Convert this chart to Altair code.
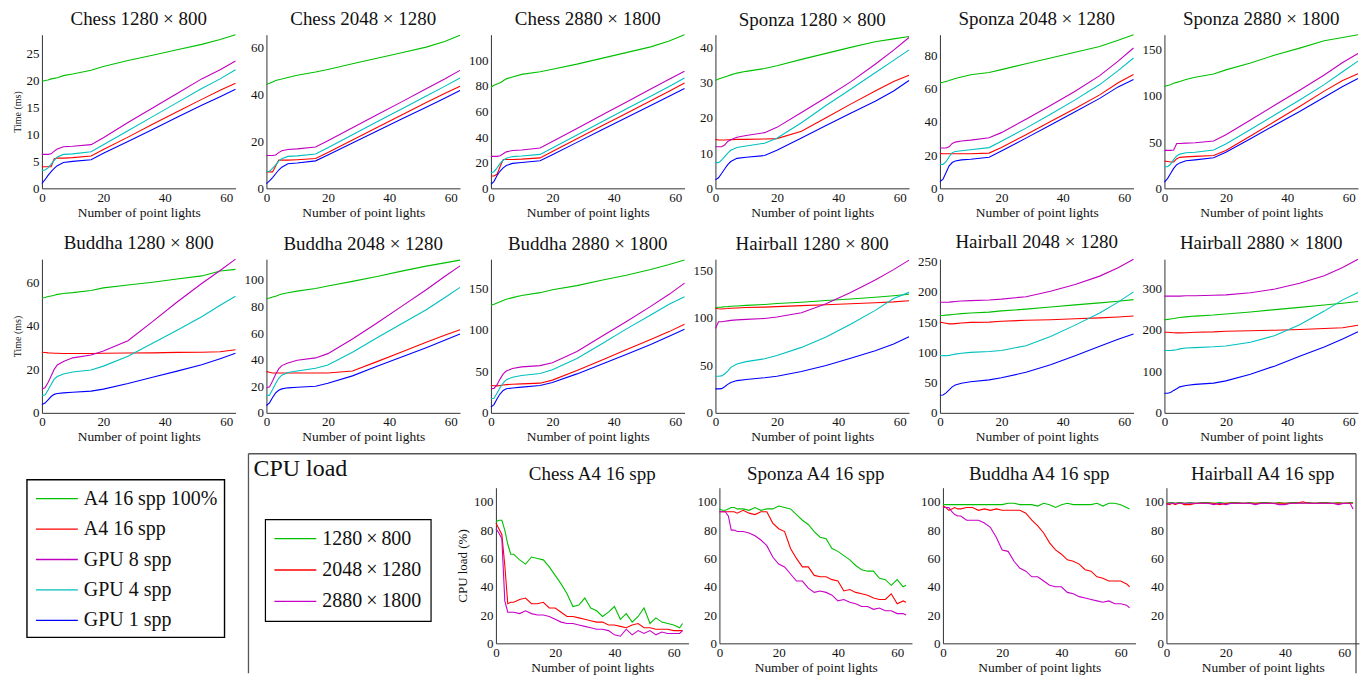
import altair as alt
import pandas as pd

FONT = "Liberation Serif"

SERIES = ["A4 16 spp 100%", "A4 16 spp", "GPU 8 spp", "GPU 4 spp", "GPU 1 spp"]
SERIES_COLORS = ["#00c000", "#ff0000", "#c000c0", "#00c0c0", "#0000ff"]
RES = ["1280\u2009×\u2009800", "2048\u2009×\u20091280", "2880\u2009×\u20091800"]
RES_COLORS = ["#00c000", "#ff0000", "#c800c8"]

X_T = [0, 1, 2, 3, 4, 5, 7, 10, 16, 20, 28, 36, 44, 52, 58, 63]
X_CPU = [0, 1, 2, 3, 4, 5, 6, 8, 10, 12, 14, 16, 18, 20, 22, 24, 26, 28, 30, 32, 34, 36,
         38, 40, 42, 44, 46, 48, 50, 52, 54, 56, 58, 60, 62, 63]

# ---- timing panels: [A4 100%, A4, GPU8, GPU4, GPU1] at X_T ----
CHESS_1280 = [
    [19.8, 20.0, 20.1, 20.3, 20.4, 20.5, 20.9, 21.2, 21.9, 22.6, 23.7, 24.7, 25.7, 26.7, 27.6, 28.5],
    [4.0, 4.0, 4.0, 4.0, 5.5, 5.6, 5.6, 5.7, 6.0, 7.2, 9.5, 11.9, 14.2, 16.5, 18.2, 19.5],
    [6.3, 6.3, 6.3, 6.4, 6.9, 7.3, 7.7, 7.8, 8.1, 9.4, 12.2, 14.9, 17.6, 20.3, 22.0, 23.6],
    [3.3, 3.4, 3.8, 4.5, 5.2, 5.8, 6.3, 6.4, 6.8, 8.1, 10.7, 13.3, 15.9, 18.5, 20.3, 22.0],
    [0.9, 1.6, 2.4, 3.1, 3.7, 4.2, 4.8, 5.0, 5.3, 6.5, 8.7, 10.9, 13.2, 15.4, 17.0, 18.4],
]
CHESS_2048 = [
    [44.2, 44.7, 45.3, 45.9, 46.2, 46.5, 47.2, 48.1, 49.5, 50.6, 53.0, 55.4, 57.7, 60.1, 62.5, 65.2],
    [7.0, 7.0, 7.0, 9.5, 12.0, 12.0, 12.0, 12.2, 12.7, 15.3, 20.6, 25.9, 31.2, 36.5, 40.4, 43.5],
    [14.0, 14.0, 14.0, 14.2, 15.2, 16.0, 16.5, 16.8, 17.6, 20.3, 25.8, 31.3, 36.8, 42.4, 46.5, 50.2],
    [7.1, 7.3, 8.5, 10.0, 11.6, 12.6, 13.6, 13.8, 14.6, 17.3, 22.8, 28.3, 33.8, 39.3, 43.4, 47.0],
    [2.0, 3.2, 4.6, 6.2, 7.8, 9.0, 10.5, 10.8, 11.7, 14.2, 19.3, 24.4, 29.5, 34.5, 38.3, 41.6],
]
CHESS_2880 = [
    [79, 80.5, 81.5, 82.5, 84, 85.5, 87, 89, 91, 93, 97, 101.5, 106, 110.5, 115, 120],
    [9.6, 9.6, 11, 17, 22.5, 22.5, 22.5, 22.8, 23.8, 28.8, 38.7, 48.6, 58.5, 68.4, 75.8, 82.3],
    [25, 25, 25, 25.5, 27, 28.5, 29.5, 30, 31.5, 36.5, 46.8, 57, 67.2, 77.5, 85.2, 91.5],
    [12.2, 13, 16, 19.5, 22, 23.5, 24.8, 25.2, 26.5, 31.5, 41.6, 51.8, 61.9, 72, 79.6, 86.2],
    [3.1, 5.5, 10, 13.5, 16, 17.8, 19.5, 20.2, 21.5, 26.3, 35.9, 45.5, 55.1, 64.7, 71.9, 78],
]
SPONZA_1280 = [
    [30.6, 31.0, 31.3, 31.6, 31.9, 32.2, 32.7, 33.2, 34.0, 34.8, 36.6, 38.3, 40.0, 41.6, 42.4, 43.1],
    [13.9, 13.7, 13.7, 13.7, 13.8, 13.8, 13.9, 13.9, 14.0, 14.1, 16.2, 20.0, 23.9, 27.6, 30.3, 32.1],
    [11.8, 11.8, 11.8, 12.3, 13.3, 13.8, 14.5, 15.0, 15.8, 17.3, 21.5, 25.8, 30.2, 35.2, 39.2, 42.8],
    [7.3, 7.3, 8.0, 9.0, 10.0, 10.8, 11.6, 12.0, 12.8, 14.2, 18.6, 23.5, 28.1, 32.8, 36.3, 39.3],
    [2.4, 3.0, 4.2, 5.5, 6.7, 7.6, 8.5, 8.8, 9.3, 10.8, 14.3, 17.8, 21.3, 24.7, 27.6, 30.6],
]
SPONZA_2048 = [
    [63.4, 63.8, 64.3, 64.8, 65.4, 66, 66.9, 68.3, 69.7, 71.4, 74.9, 78.4, 81.8, 85.3, 89, 92.4],
    [21, 20.8, 20.8, 20.8, 20.8, 20.8, 20.8, 20.8, 21.2, 24.6, 32.2, 40.2, 48, 56.2, 63.5, 68.4],
    [24.3, 24.3, 24.3, 25, 27, 27.8, 28.5, 29, 30.4, 33.5, 41.5, 49.8, 58.4, 67.8, 76.5, 84.4],
    [14.4, 14.4, 16, 19, 21.5, 22.2, 22.6, 23.2, 24.5, 28.3, 36.2, 44.6, 53.2, 62.4, 70.8, 78.4],
    [4, 5.5, 9.5, 13.5, 15.5, 16.4, 17.1, 17.5, 18.7, 22.5, 30.2, 38.1, 46, 54.1, 61, 65.4],
]
SPONZA_2880 = [
    [110, 111, 112, 113.5, 114.5, 115.5, 117.5, 120, 123.5, 128, 135.5, 144, 151.5, 159.5, 163, 166],
    [29.5, 29, 28.5, 28.5, 32, 33.5, 34, 34.5, 35.5, 41, 56.5, 72.5, 88.5, 105, 116.5, 123.7],
    [41, 41, 41, 41.5, 48.5, 48.5, 48.8, 49.2, 51.1, 58, 73.8, 90, 106, 122.5, 136, 145.7],
    [23.4, 23.4, 26, 31, 35, 37, 38.5, 39, 41.5, 48, 63.5, 79.5, 95.5, 112, 126, 137.4],
    [6.8, 10.5, 16, 21.5, 25.5, 27.5, 29.8, 30.8, 33, 39, 53.5, 68.5, 83, 98.5, 110, 118.7],
]
BUDDHA_1280 = [
    [52.8, 53.1, 53.5, 53.8, 54.1, 54.5, 54.9, 55.3, 56.3, 57.5, 58.8, 60.1, 61.6, 63, 65.3, 66.0],
    [27.9, 27.8, 27.6, 27.5, 27.4, 27.4, 27.3, 27.3, 27.3, 27.4, 27.5, 27.6, 27.8, 27.9, 28.1, 29.0],
    [11, 11.5, 14, 17, 20, 22, 23.6, 25.3, 26.6, 28.5, 33.2, 42, 51, 59.5, 65.5, 70.7],
    [8, 8.2, 10.5, 13, 15.5, 16.7, 17.9, 18.8, 19.7, 21.5, 26, 32, 38, 44.2, 49.5, 53.6],
    [3.8, 4.5, 6.0, 7.5, 8.5, 8.9, 9.2, 9.5, 10, 10.9, 13.5, 16.4, 19.2, 22.1, 24.9, 27.4],
]
BUDDHA_2048 = [
    [85.5, 86.3, 87, 87.7, 88.5, 89.3, 90.3, 91.5, 93.5, 95.3, 98.8, 102.5, 106.5, 110.3, 112.7, 114.8],
    [31, 30.5, 30, 30, 30, 30, 30, 30, 30, 30, 31.5, 38.5, 45.8, 53, 58.3, 62.5],
    [18.8, 19.5, 24, 29, 33, 35.5, 37.5, 39.5, 41.3, 44.5, 55.5, 67.5, 80, 92.5, 102.5, 110.5],
    [12.8, 13.3, 17.5, 22, 26, 28.3, 30.3, 31.5, 33.5, 36, 45.5, 56.5, 67, 77.5, 86.5, 94.3],
    [5.5, 7.5, 11.5, 15, 17, 18, 18.8, 19.2, 20, 22.2, 27.8, 35, 42, 49, 54.5, 59.3],
]
BUDDHA_2880 = [
    [130, 131, 132.5, 134, 135.5, 137, 139, 141.5, 145, 148.5, 153.5, 160, 166, 173, 179, 184.5],
    [33, 32.7, 32.5, 33, 33.5, 34, 34.5, 35, 35.8, 39.5, 51, 63.5, 76, 88.5, 98, 107],
    [29, 29.5, 34, 41, 47, 50.5, 53.5, 55.5, 57, 60.5, 74, 92, 110, 128.5, 143, 156.5],
    [17, 17.5, 24, 30.5, 36, 40, 43, 45, 47.5, 52, 65.5, 83, 101, 118, 131, 140],
    [6.8, 10, 17, 23, 27, 29, 30, 31, 33, 36.5, 47, 58.5, 70.5, 82.5, 92.5, 101],
]
HAIRBALL_1280 = [
    [111, 111.3, 111.5, 111.8, 112, 112.3, 112.7, 113.3, 114.3, 115.2, 116.6, 118.4, 120, 121.8, 123.5, 125],
    [110.2, 109.8, 109.5, 109.8, 110, 110.3, 110.5, 111, 111.5, 112, 113, 114, 115, 116, 117, 118.2],
    [89, 96, 96, 96.5, 97, 97.5, 98, 98.5, 99.5, 101, 105.5, 115, 127, 140, 151, 161],
    [38.6, 38.6, 39, 41, 44, 48, 51.5, 54, 57, 60.5, 69, 80, 93.5, 108, 120.5, 127],
    [25.3, 25.3, 25.5, 27.5, 30, 32, 34, 35.2, 37, 38.5, 43.5, 50, 57.5, 65.5, 72.5, 80.3],
]
HAIRBALL_2048 = [
    [160.8, 161, 161.5, 162, 162.5, 163, 164, 165, 166.5, 168.5, 171.5, 175, 178.5, 181.8, 184.5, 187.2],
    [150, 149, 148, 147, 147, 147.5, 148.5, 149.5, 150, 151.5, 153, 154, 155.5, 157, 158.5, 160],
    [182.8, 182.8, 182.8, 183, 183.5, 184, 185, 185.5, 186.5, 188, 192, 201, 212, 226, 240, 254],
    [94.7, 94.5, 94.5, 95, 96, 97, 98.5, 100, 101.5, 103, 111, 126, 145, 165, 183, 200],
    [29, 29.5, 33, 38, 43, 46, 49, 51.5, 54.5, 58, 67, 79.5, 94.5, 110, 121.5, 130.5],
]
HAIRBALL_2880 = [
    [224.5, 225, 226, 227, 228.5, 229.5, 231, 233, 235.5, 238, 243, 248.5, 254, 259.5, 264, 268],
    [194, 194, 193.5, 193, 192.5, 192.5, 193, 194, 195, 196.5, 197.5, 199, 200.5, 203, 205, 211],
    [281, 281, 281, 281, 281, 281, 282, 282, 283, 284, 289, 298, 312, 330, 350, 370],
    [150, 150, 150, 151, 152, 154, 156, 157, 159, 161, 170, 186, 212, 245, 272, 290],
    [47, 47, 49, 54, 58, 62.5, 66, 68.5, 71.5, 77, 93, 113, 136, 158.5, 178, 195],
]

# ---- CPU load panels: [1280x800, 2048x1280, 2880x1800] at X_CPU ----
CPU_CHESS = [
    [86, 87, 87, 80, 70, 63, 63, 59, 56, 61, 60, 59, 54, 48, 42, 35, 26, 27, 32, 25, 23, 19,
     22, 26, 17, 21, 15, 19, 25, 14, 18, 15, 14, 13, 11, 14],
    [85, 81, 77, 55, 28, 29, 29, 31, 32, 28, 28, 29, 25, 25, 22, 19, 19, 18, 17, 16, 15, 15,
     13, 13, 12, 11, 13, 14, 11, 11, 10, 10, 10, 9, 9, 9],
    [81, 78, 74, 30, 22, 22, 22, 21, 23, 21, 20, 20, 19, 17, 15, 14, 14, 13, 12, 11, 10, 10,
     9, 6, 5, 10, 6, 9, 7, 9, 6, 8, 7, 7, 7, 9],
]
CPU_SPONZA = [
    [95, 94, 94, 95, 96, 96, 95, 95, 94, 96, 94, 95, 95, 97, 96, 95, 91, 87, 84, 79, 75, 74,
     67, 65, 62, 59, 55, 52, 51, 51, 46, 45, 41, 45, 40, 41],
    [93, 93, 93, 93, 93, 93, 92, 94, 92, 91, 93, 93, 85, 81, 79, 67, 60, 54, 54, 48, 47, 47,
     45, 44, 37, 38, 36, 35, 34, 32, 31, 31, 35, 28, 30, 29],
    [93, 93, 93, 90, 80, 80, 79, 79, 78, 76, 73, 69, 61, 56, 54, 49, 44, 44, 39, 36, 37, 36,
     34, 30, 31, 29, 28, 26, 26, 24, 25, 23, 23, 21, 21, 20],
]
CPU_BUDDHA = [
    [98, 98, 98, 98, 98, 98, 98, 98, 98, 98, 98, 98, 98, 98, 99, 99, 98, 98, 98, 97, 99, 98,
     96, 98, 99, 98, 98, 98, 98, 99, 97, 99, 99, 98, 96, 95],
    [97, 96, 94, 95, 96, 95, 95, 96, 96, 94, 95, 94, 95, 94, 94, 94, 94, 92, 87, 83, 78, 71,
     66, 63, 59, 58, 56, 52, 51, 47, 46, 44, 44, 44, 42, 40],
    [96, 96, 96, 93, 91, 90, 90, 87, 87, 87, 85, 82, 75, 66, 65, 58, 53, 51, 47, 47, 44, 41,
     40, 40, 36, 35, 33, 32, 31, 30, 29, 30, 28, 28, 27, 25],
]
CPU_HAIRBALL = [
    [99, 99.5, 99.5, 99, 99.5, 99.5, 99, 99.5, 99, 99.5, 99.5, 99, 99.5, 99, 99.5, 99.5, 99, 99.5,
     99, 99.5, 99.5, 99, 99.5, 99, 99.5, 99.5, 99, 99.5, 99, 99.5, 99.5, 99, 99.5, 99, 99.5, 99.5],
    [99, 98, 99, 98, 99, 99, 98, 98, 99, 99, 99, 99, 98, 99, 99, 99, 99, 99, 99, 99, 99, 99,
     99, 99, 99, 99, 100, 99, 99, 99, 99, 99, 99, 99, 99, 99],
    [98, 99, 99, 99, 99, 99, 99, 99, 99, 99, 99, 98, 99, 98, 99, 99, 99, 99, 98, 99, 99, 99,
     98, 98, 99, 99, 99, 99, 99, 99, 99, 99, 98, 99, 99, 95],
]

TIME_PANELS = [
    ("Chess 1280 × 800", CHESS_1280, 28.5, [0, 5, 10, 15, 20, 25]),
    ("Chess 2048 × 1280", CHESS_2048, 65.4, [0, 20, 40, 60]),
    ("Chess 2880 × 1800", CHESS_2880, 120, [0, 20, 40, 60, 80, 100]),
    ("Sponza 1280 × 800", SPONZA_1280, 43.6, [0, 10, 20, 30, 40]),
    ("Sponza 2048 × 1280", SPONZA_2048, 92.4, [0, 20, 40, 60, 80]),
    ("Sponza 2880 × 1800", SPONZA_2880, 166, [0, 50, 100, 150]),
    ("Buddha 1280 × 800", BUDDHA_1280, 70.7, [0, 20, 40, 60]),
    ("Buddha 2048 × 1280", BUDDHA_2048, 115.5, [0, 20, 40, 60, 80, 100]),
    ("Buddha 2880 × 1800", BUDDHA_2880, 185.4, [0, 50, 100, 150]),
    ("Hairball 1280 × 800", HAIRBALL_1280, 162, [0, 50, 100, 150]),
    ("Hairball 2048 × 1280", HAIRBALL_2048, 254, [0, 50, 100, 150, 200, 250]),
    ("Hairball 2880 × 1800", HAIRBALL_2880, 370, [0, 100, 200, 300]),
]
CPU_PANELS = [
    ("Chess A4 16 spp", CPU_CHESS),
    ("Sponza A4 16 spp", CPU_SPONZA),
    ("Buddha A4 16 spp", CPU_BUDDHA),
    ("Hairball A4 16 spp", CPU_HAIRBALL),
]

TW, TH = 194, 154
CW, CH = 193, 156
LEGW = 424

XTITLE = "Number of point lights"


def title(text):
    return alt.Title(text, font=FONT, fontSize=19, fontWeight="normal", color="#111",
                     anchor="middle", offset=4)


def time_panel(i, name, vals, ymax, ticks):
    rows = []
    for s, ys in zip(SERIES, vals):
        for x, v in zip(X_T, ys):
            rows.append({"x": x, "t": v, "series": s})
    df = pd.DataFrame(rows)
    first = (i % 6 == 0)
    return alt.Chart(df, title=title(name)).mark_line(strokeWidth=1.1).encode(
        x=alt.X("x:Q", scale=alt.Scale(domain=[0, 63], nice=False, zero=False),
                axis=alt.Axis(values=[0, 20, 40, 60], title=XTITLE)),
        y=alt.Y("t:Q", scale=alt.Scale(domain=[0, ymax], nice=False),
                axis=alt.Axis(values=ticks, title="Time (ms)" if first else None,
                              titleFontSize=10, titlePadding=3)),
        color=alt.Color("series:N", scale=alt.Scale(domain=SERIES, range=SERIES_COLORS),
                        legend=None),
    ).properties(width=TW, height=TH)


def cpu_panel(i, name, vals):
    rows = []
    for r, ys in zip(RES, vals):
        for x, v in zip(X_CPU, ys):
            rows.append({"x": x, "load": v, "res": r})
    df = pd.DataFrame(rows)
    return alt.Chart(df, title=title(name)).mark_line(strokeWidth=1.1).encode(
        x=alt.X("x:Q", scale=alt.Scale(domain=[0, 65], nice=False, zero=False),
                axis=alt.Axis(values=[0, 20, 40, 60], title=XTITLE)),
        y=alt.Y("load:Q", scale=alt.Scale(domain=[0, 110], nice=False),
                axis=alt.Axis(values=[0, 20, 40, 60, 80, 100],
                              title="CPU load (%)" if i == 0 else None,
                              titleFontSize=13, titlePadding=4)),
        color=alt.Color("res:N", scale=alt.Scale(domain=RES, range=RES_COLORS), legend=None),
    ).properties(width=CW, height=CH)


# ---- legend / CPU-load frame panel ----
one = pd.DataFrame({"k": [0]})
leg1_df = pd.DataFrame({"label": SERIES})
leg2_df = pd.DataFrame({"res": RES})

box1 = alt.Chart(one).mark_rect(fillOpacity=0, stroke="#000", strokeWidth=1.4).encode(
    x=alt.value(-15), x2=alt.value(183), y=alt.value(-8), y2=alt.value(150))
y1 = alt.Y("label:N", scale=alt.Scale(type="point", domain=SERIES, range=[11, 133], padding=0),
           axis=None)
c1 = alt.Color("label:N", scale=alt.Scale(domain=SERIES, range=SERIES_COLORS), legend=None)
leg1_lines = alt.Chart(leg1_df).mark_rule(strokeWidth=1.3).encode(
    x=alt.value(-6), x2=alt.value(36), y=y1, color=c1)
leg1_text = alt.Chart(leg1_df).mark_text(align="left", baseline="middle", font=FONT,
                                         fontSize=20, color="#111").encode(
    x=alt.value(42), y=y1, text="label:N")
legend1 = alt.layer(box1, leg1_lines, leg1_text)

box2 = alt.Chart(one).mark_rect(fillOpacity=0, stroke="#000", strokeWidth=1.2).encode(
    x=alt.value(224), x2=alt.value(390), y=alt.value(32), y2=alt.value(134))
y2 = alt.Y("res:N", scale=alt.Scale(type="point", domain=RES, range=[51, 114], padding=0),
           axis=None)
c2 = alt.Color("res:N", scale=alt.Scale(domain=RES, range=RES_COLORS), legend=None)
leg2_lines = alt.Chart(leg2_df).mark_rule(strokeWidth=1.3).encode(
    x=alt.value(233), x2=alt.value(275), y=y2, color=c2)
leg2_text = alt.Chart(leg2_df).mark_text(align="left", baseline="middle", font=FONT,
                                         fontSize=20, color="#111").encode(
    x=alt.value(281), y=y2, text="res:N")
legend2 = alt.layer(box2, leg2_lines, leg2_text)

frame_left = alt.Chart(one).mark_rule(color="#555", strokeWidth=1.3).encode(
    x=alt.value(207), y=alt.value(-34), y2=alt.value(186))
frame_top = alt.Chart(one).mark_rule(color="#555", strokeWidth=1.3).encode(
    x=alt.value(207), x2=alt.value(1317), y=alt.value(-34))
frame_right = alt.Chart(one).mark_rule(color="#555", strokeWidth=1.3).encode(
    x=alt.value(1317), y=alt.value(-34), y2=alt.value(186))
cpu_label = alt.Chart(one).mark_text(align="left", baseline="middle", font=FONT, fontSize=24,
                                     color="#111").encode(
    x=alt.value(212), y=alt.value(-19), text=alt.value("CPU load"))

legend_panel = alt.layer(frame_left, frame_top, frame_right, cpu_label, legend1, legend2).resolve_scale(
    y="independent", color="independent").properties(width=LEGW, height=CH)

time_grid = alt.concat(
    *[time_panel(i, *p) for i, p in enumerate(TIME_PANELS)],
    columns=6, spacing={"row": 71, "column": 31}, bounds="flush"
).resolve_scale(color="independent")

cpu_row = alt.hconcat(
    legend_panel, *[cpu_panel(i, name, vals) for i, (name, vals) in enumerate(CPU_PANELS)],
    spacing=31, bounds="flush"
).resolve_scale(color="independent")

chart = alt.vconcat(time_grid, cpu_row, spacing=9).resolve_scale(color="independent").properties(
    padding={"left": 5, "top": 0, "right": 0, "bottom": 0}, background="white"
).configure_view(stroke=None).configure_axis(
    labelFont=FONT, labelFontSize=13, labelColor="#111", titleFont=FONT, titleFontSize=13.5,
    titleFontWeight="normal", titleColor="#111", domainColor="#333", domainWidth=1,
    ticks=False, grid=False, labelPadding=3, titlePadding=1, labelFlush=False,
    labelOverlap=False
)

chart.save("out.html", embed_options={"renderer": "svg", "actions": False})
